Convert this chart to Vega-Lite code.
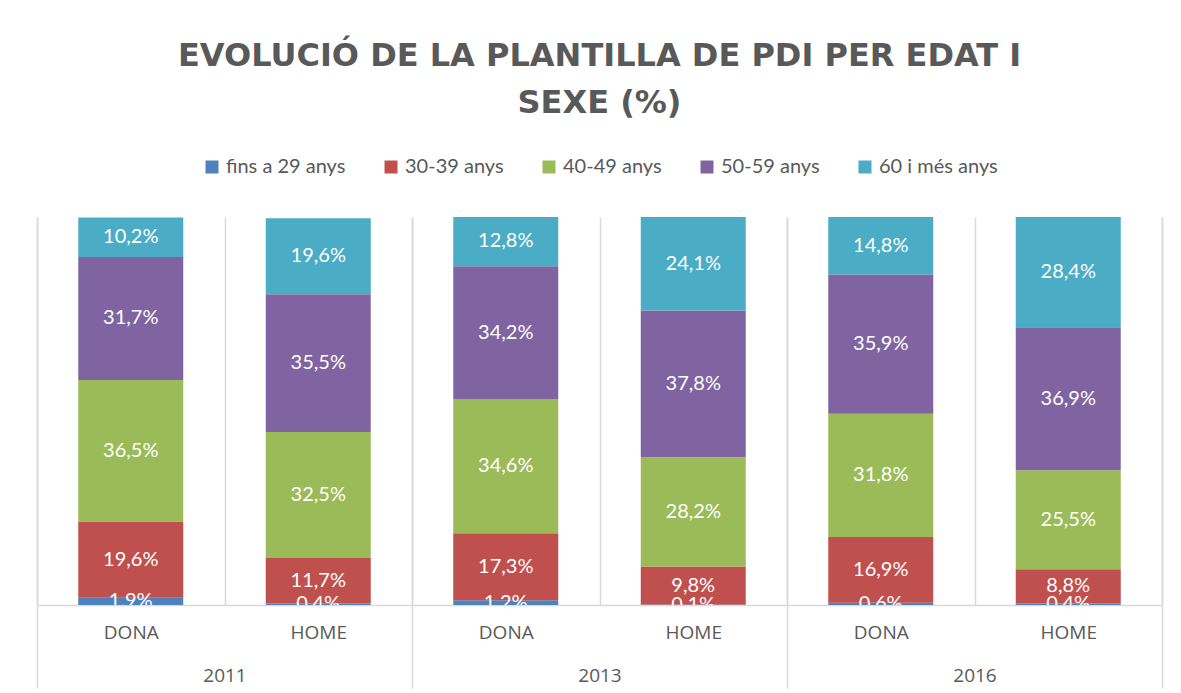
{
  "$schema": "https://vega.github.io/schema/vega-lite/v6.json",
  "autosize": "none",
  "width": 1125,
  "height": 388,
  "padding": {"left": 37, "top": 217, "right": 19, "bottom": 88},
  "background": "#ffffff",
  "title": {
    "text": ["EVOLUCIÓ DE LA PLANTILLA DE PDI PER EDAT I", "SEXE (%)"],
    "font": "DejaVu Sans",
    "fontSize": 32,
    "fontWeight": "bold",
    "color": "#595959",
    "lineHeight": 47,
    "anchor": "middle",
    "offset": 37
  },
  "data": {
    "values": [
      {"year": "2011", "sex": "DONA", "age": "fins a 29 anys", "pct": 1.9},
      {"year": "2011", "sex": "DONA", "age": "30-39 anys", "pct": 19.6},
      {"year": "2011", "sex": "DONA", "age": "40-49 anys", "pct": 36.5},
      {"year": "2011", "sex": "DONA", "age": "50-59 anys", "pct": 31.7},
      {"year": "2011", "sex": "DONA", "age": "60 i més anys", "pct": 10.2},
      {"year": "2011", "sex": "HOME", "age": "fins a 29 anys", "pct": 0.4},
      {"year": "2011", "sex": "HOME", "age": "30-39 anys", "pct": 11.7},
      {"year": "2011", "sex": "HOME", "age": "40-49 anys", "pct": 32.5},
      {"year": "2011", "sex": "HOME", "age": "50-59 anys", "pct": 35.5},
      {"year": "2011", "sex": "HOME", "age": "60 i més anys", "pct": 19.6},
      {"year": "2013", "sex": "DONA", "age": "fins a 29 anys", "pct": 1.2},
      {"year": "2013", "sex": "DONA", "age": "30-39 anys", "pct": 17.3},
      {"year": "2013", "sex": "DONA", "age": "40-49 anys", "pct": 34.6},
      {"year": "2013", "sex": "DONA", "age": "50-59 anys", "pct": 34.2},
      {"year": "2013", "sex": "DONA", "age": "60 i més anys", "pct": 12.8},
      {"year": "2013", "sex": "HOME", "age": "fins a 29 anys", "pct": 0.1},
      {"year": "2013", "sex": "HOME", "age": "30-39 anys", "pct": 9.8},
      {"year": "2013", "sex": "HOME", "age": "40-49 anys", "pct": 28.2},
      {"year": "2013", "sex": "HOME", "age": "50-59 anys", "pct": 37.8},
      {"year": "2013", "sex": "HOME", "age": "60 i més anys", "pct": 24.1},
      {"year": "2016", "sex": "DONA", "age": "fins a 29 anys", "pct": 0.6},
      {"year": "2016", "sex": "DONA", "age": "30-39 anys", "pct": 16.9},
      {"year": "2016", "sex": "DONA", "age": "40-49 anys", "pct": 31.8},
      {"year": "2016", "sex": "DONA", "age": "50-59 anys", "pct": 35.9},
      {"year": "2016", "sex": "DONA", "age": "60 i més anys", "pct": 14.8},
      {"year": "2016", "sex": "HOME", "age": "fins a 29 anys", "pct": 0.4},
      {"year": "2016", "sex": "HOME", "age": "30-39 anys", "pct": 8.8},
      {"year": "2016", "sex": "HOME", "age": "40-49 anys", "pct": 25.5},
      {"year": "2016", "sex": "HOME", "age": "50-59 anys", "pct": 36.9},
      {"year": "2016", "sex": "HOME", "age": "60 i més anys", "pct": 28.4}
    ]
  },
  "transform": [
    {"calculate": "datum.year + ' ' + datum.sex", "as": "cat"},
    {"calculate": "indexof(['fins a 29 anys','30-39 anys','40-49 anys','50-59 anys','60 i més anys'], datum.age)", "as": "ord"},
    {"stack": "pct", "groupby": ["cat"], "sort": [{"field": "ord", "order": "ascending"}], "as": ["y0", "y1"]},
    {"calculate": "(datum.y0 + datum.y1) / 2", "as": "mid"},
    {"calculate": "replace(format(datum.pct, '.1f'), '.', ',') + '%'", "as": "label"}
  ],
  "layer": [
    {
      "mark": {"type": "bar", "width": {"band": 0.56}, "clip": true},
      "encoding": {
        "x": {
          "field": "cat",
          "type": "nominal",
          "sort": "ascending",
          "scale": {"paddingInner": 0, "paddingOuter": 0},
          "title": null,
          "axis": {
            "labelExpr": "split(datum.value, ' ')[1]",
            "labelAngle": 0,
            "labelFont": "Open Sans",
            "labelFontSize": 19,
            "labelColor": "#595959",
            "labelPadding": 18,
            "ticks": false,
            "tickBand": "extent",
            "grid": true,
            "gridColor": "#d9d9d9",
            "gridWidth": 1.5,
            "domain": true,
            "domainColor": "#d9d9d9",
            "domainWidth": 1.5
          }
        },
        "y": {"field": "y0", "type": "quantitative", "scale": {"domain": [0, 100]}, "axis": null},
        "y2": {"field": "y1"},
        "color": {
          "field": "age",
          "type": "nominal",
          "scale": {
            "domain": ["fins a 29 anys", "30-39 anys", "40-49 anys", "50-59 anys", "60 i més anys"],
            "range": ["#4f81bd", "#c0504d", "#9bbb59", "#8064a2", "#4bacc6"]
          },
          "legend": {
            "orient": "top",
            "direction": "horizontal",
            "title": null,
            "symbolType": "square",
            "symbolSize": 169,
            "symbolStrokeWidth": 0,
            "labelFont": "Lato",
            "labelFontSize": 20,
            "labelColor": "#595959",
            "columnPadding": 35,
            "labelOffset": 4,
            "offset": 40
          }
        }
      }
    },
    {
      "mark": {"type": "text", "color": "#ffffff", "font": "Lato", "fontSize": 20, "clip": true},
      "encoding": {
        "x": {"field": "cat", "type": "nominal", "sort": "ascending", "scale": {"paddingInner": 0, "paddingOuter": 0}, "axis": null},
        "y": {"field": "mid", "type": "quantitative"},
        "text": {"field": "label"}
      }
    },
    {
      "mark": {"type": "tick", "opacity": 0},
      "encoding": {
        "x": {
          "field": "year",
          "type": "nominal",
          "scale": {"paddingInner": 0, "paddingOuter": 0},
          "title": null,
          "axis": {
            "orient": "bottom",
            "labelAngle": 0,
            "labelFont": "Open Sans",
            "labelFontSize": 19,
            "labelColor": "#595959",
            "labelPadding": -22,
            "ticks": true,
            "tickSize": 83,
            "tickColor": "#d9d9d9",
            "tickWidth": 1.5,
            "tickBand": "extent",
            "grid": true,
            "gridColor": "#d9d9d9",
            "gridWidth": 1.5,
            "domain": false
          }
        }
      }
    }
  ],
  "resolve": {"scale": {"x": "independent"}, "axis": {"x": "independent"}},
  "config": {
    "view": {"stroke": null},
    "legend": {"layout": {"top": {"anchor": "middle"}}}
  }
}
